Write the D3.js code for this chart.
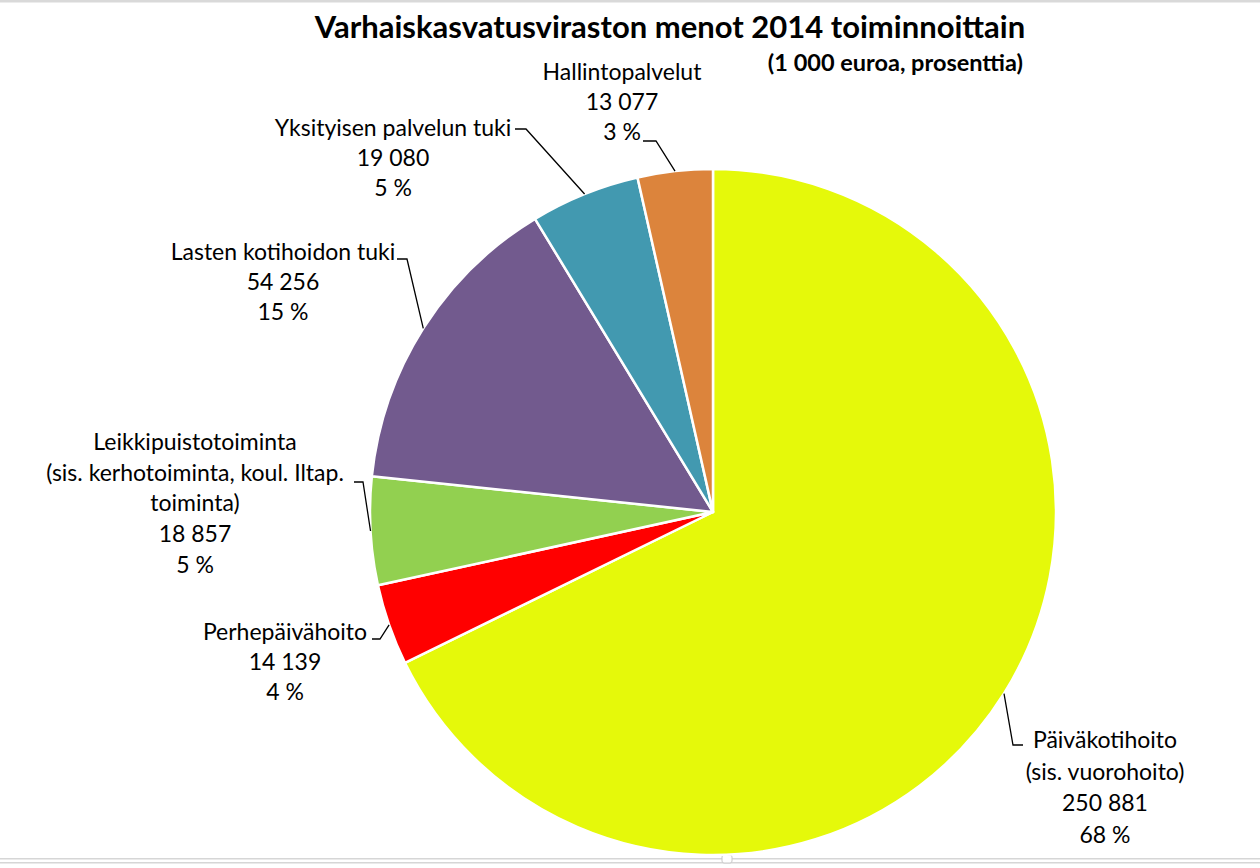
<!DOCTYPE html>
<html>
<head>
<meta charset="utf-8">
<script src="https://cdn.jsdelivr.net/npm/d3@7"></script>
<style>
  body { margin: 0; background: #fff; }
  svg { display: block; font-family: Lato, "Open Sans", sans-serif; }
</style>
</head>
<body>
<svg id="chart" width="1260" height="868"></svg>
<script>
// data
var categories = ["Päiväkotihoito", "Perhepäivähoito", "Leikkipuistotoiminta", "Lasten kotihoidon tuki", "Yksityisen palvelun tuki", "Hallintopalvelut"];
var values = [250881, 14139, 18857, 54256, 19080, 13077];
// percentages as printed on the chart
var percents = [68, 4, 5, 15, 5, 3];
var labelNames = [
  ["Päiväkotihoito", "(sis. vuorohoito)"],
  ["Perhepäivähoito"],
  ["Leikkipuistotoiminta", "(sis. kerhotoiminta, koul. Iltap.", "toiminta)"],
  ["Lasten kotihoidon tuki"],
  ["Yksityisen palvelun tuki"],
  ["Hallintopalvelut"]
];
var colors = ["#e5f90a", "#ff0000", "#92d050", "#725a8e", "#4299b0", "#dc843c"];

// label layout: text centre x, first baseline, line height, leader start + elbow
var labelLayout = [
  { x: 1105, y: 748, lh: 31.5, leader: [[1023, 745], [1013, 745]] },
  { x: 285, y: 640, lh: 30, leader: [[372, 639], [380, 639]] },
  { x: 195, y: 450, lh: 30.7, leader: [[354, 482], [363, 482]] },
  { x: 283, y: 260, lh: 30, leader: [[397, 259], [407, 259]] },
  { x: 393, y: 136, lh: 30, leader: [[515, 129], [526, 129]] },
  { x: 622, y: 80, lh: 30, leader: [[643, 141], [656, 141]] }
];

var svg = d3.select("#chart");
var cx = 713, cy = 512, radius = 343;

var fi = d3.formatLocale({ decimal: ",", thousands: "\u00a0", grouping: [3], currency: ["", "€"] });
var fmtNum = fi.format(",d");

// frame lines
svg.append("rect").attr("x", 0).attr("y", 0).attr("width", 1260).attr("height", 2.5).attr("fill", "#d9d9d9");
svg.append("rect").attr("x", 0).attr("y", 858).attr("width", 1260).attr("height", 1.5).attr("fill", "#d6d6d6");
svg.append("rect").attr("x", 0).attr("y", 862).attr("width", 1260).attr("height", 1.5).attr("fill", "#d6d6d6");
svg.append("rect").attr("x", 722).attr("y", 855).attr("width", 10).attr("height", 8).attr("rx", 2)
  .attr("fill", "#fff").attr("stroke", "#c8c8c8");

// title
svg.append("text").attr("x", 670).attr("y", 38).attr("text-anchor", "middle")
  .attr("font-size", 31).attr("font-weight", "bold").attr("fill", "#000")
  .text("Varhaiskasvatusviraston menot 2014 toiminnoittain");
svg.append("text").attr("x", 1023).attr("y", 71).attr("text-anchor", "end")
  .attr("font-size", 23.5).attr("font-weight", "bold").attr("fill", "#000")
  .text("(1 000 euroa, prosenttia)");

var pie = d3.pie().sort(null).value(function (d) { return d; });
var arcs = pie(values);
var arc = d3.arc().innerRadius(0).outerRadius(radius);

var g = svg.append("g").attr("transform", "translate(" + cx + "," + cy + ")");
g.selectAll("path.slice")
  .data(arcs)
  .enter().append("path")
  .attr("class", "slice")
  .attr("d", arc)
  .attr("fill", function (d, i) { return colors[i]; })
  .attr("stroke", "#fff")
  .attr("stroke-width", 2.5)
  .attr("stroke-linejoin", "round");

// leader lines
arcs.forEach(function (d, i) {
  var mid = (d.startAngle + d.endAngle) / 2;
  var px = cx + Math.sin(mid) * radius;
  var py = cy - Math.cos(mid) * radius;
  var pts = labelLayout[i].leader.concat([[px, py]]);
  svg.append("path")
    .attr("d", d3.line()(pts))
    .attr("fill", "none")
    .attr("stroke", "#000")
    .attr("stroke-width", 1.3);
});

// labels
arcs.forEach(function (d, i) {
  var L = labelLayout[i];
  var lines = labelNames[i].concat([fmtNum(values[i]), percents[i] + " %"]);
  var t = svg.append("text")
    .attr("text-anchor", "middle")
    .attr("font-size", 23)
    .attr("fill", "#000");
  lines.forEach(function (s, k) {
    t.append("tspan").attr("x", L.x).attr("y", L.y + k * L.lh).text(s);
  });
});
</script>
</body>
</html>
